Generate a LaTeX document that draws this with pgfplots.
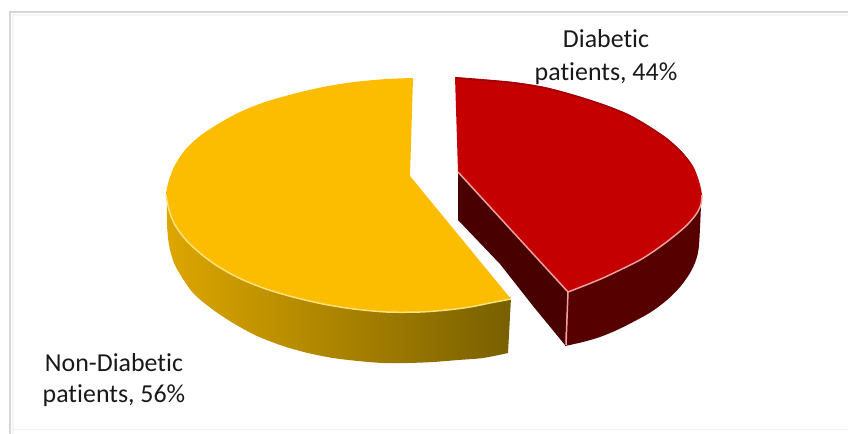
\documentclass[border=0pt]{standalone}
\usepackage{pgfplots}
\pgfplotsset{compat=1.18}
\usepackage{fontspec}
\setmainfont{Carlito}[Ligatures=NoCommon]
\definecolor{goldtop}{HTML}{FCBC00}
\definecolor{goldrim}{HTML}{FFE27A}
\definecolor{goldleft}{HTML}{DDA600}
\definecolor{goldmid}{HTML}{B98C00}
\definecolor{goldright}{HTML}{786000}
\definecolor{redtop}{HTML}{C40000}
\definecolor{redrim}{HTML}{F2A0A0}
\definecolor{rededge}{HTML}{A00008}
\definecolor{redside}{HTML}{560000}
\definecolor{redinner}{HTML}{480000}
\definecolor{frameline}{HTML}{D6D6D6}
\begin{document}
\begin{tikzpicture}
\path[use as bounding box] (0,0) rectangle (848bp,434bp);
\begin{axis}[
  at={(0,0)}, anchor=south west,
  scale only axis, width=848bp, height=434bp,
  xmin=0, xmax=848, ymin=0, ymax=434, y dir=reverse,
  hide axis, clip=true,
]
% chart frame
\addplot[black!4, line width=3pt, no marks, forget plot] coordinates {(848,15) (13,15) (13,434)};
\addplot[frameline, line width=1.6pt, no marks, forget plot] coordinates {(848,12) (10,12) (10,434)};
\addplot[black!5, line width=1pt, no marks, forget plot] coordinates {(10,429) (848,429)};

% Non-diabetic slice, 56%: rim side, then top surface
\addplot[draw=none, left color=goldleft, middle color=goldmid, right color=goldright, no marks, smooth, forget plot]
  coordinates {(167,205) (167,225) (169,245) (174,263) (183,279) (194,294) (212,309) (233,323) (257,336) (283,346) (308,353) (333,358) (358,361) (383,363) (408,363) (433,362) (458,360) (483,358) (508,353)}
  -- (axis cs:511,298) -- (axis cs:300,200) -- cycle;
\addplot[draw=none, fill=goldtop, no marks, smooth, forget plot]
  coordinates {(413,78) (387,79) (354,82) (323,87) (293,94) (265,102) (240,112) (218,124) (200,136) (185,150) (175,165) (169,180) (166,195) (169,210) (175,225) (186,240) (201,254) (219,267) (241,279) (266,289) (293,297) (323,304) (354,309) (387,312) (420,312) (447,310) (470,307) (490,303) (511,299)}
  -- (axis cs:410,176) -- cycle;
\addplot[goldrim, line width=1.5pt, no marks, smooth, forget plot]
  coordinates {(166,195) (169,210) (175,225) (186,240) (201,254) (219,267) (241,279) (266,289) (293,297) (323,304) (354,309) (387,312) (420,312) (447,310) (470,307) (490,303) (511,299)};

% Diabetic slice, 44%: inner face, rim side, then top surface
\addplot[draw=none, fill=redinner, no marks, forget plot]
  coordinates {(458,170) (458,220) (500,264) (533,306) (565,345) (568,292)} -- cycle;
\addplot[draw=none, fill=redside, no marks, smooth, forget plot]
  coordinates {(565,346) (583,342) (600,337) (617,330) (633,322) (651,312) (667,300) (680,287) (690,273) (696,260) (699,245) (701,205)}
  -- (axis cs:600,200) -- (axis cs:568,292) -- cycle;
\addplot[draw=none, fill=redtop, no marks, smooth, forget plot]
  coordinates {(455,77) (481,79) (514,82) (545,87) (575,95) (603,104) (628,114) (649,126) (668,139) (682,152) (693,166) (699,181) (702,195) (701,204) (697,213) (687,225) (673,237) (657,249) (640,260) (622,269) (603,278) (586,285) (568,292)}
  -- (axis cs:458,172) -- cycle;
\addplot[rededge, line width=1.5pt, no marks, smooth, forget plot]
  coordinates {(456,78) (481,80) (514,83) (545,88) (575,96) (603,105) (628,115) (649,127) (668,140) (682,153) (690,163)};
\addplot[redrim, line width=1.5pt, no marks, forget plot]
  coordinates {(458,172) (568,292) (566,345)};
\addplot[redrim, line width=1.5pt, no marks, smooth, forget plot]
  coordinates {(568,292) (586,285) (603,278) (622,269) (640,260) (657,249) (673,237) (687,225) (697,213) (701,204) (702,195)};

% data labels
\node[align=center, font=\fontsize{26}{33}\selectfont, text=black!90, anchor=center] at (axis cs:606,57) {Diabetic\\patients, 44\%};
\node[align=center, font=\fontsize{26}{31}\selectfont, text=black!90, anchor=center] at (axis cs:114,380) {Non-Diabetic\\patients, 56\%};
\end{axis}
\end{tikzpicture}
\end{document}
